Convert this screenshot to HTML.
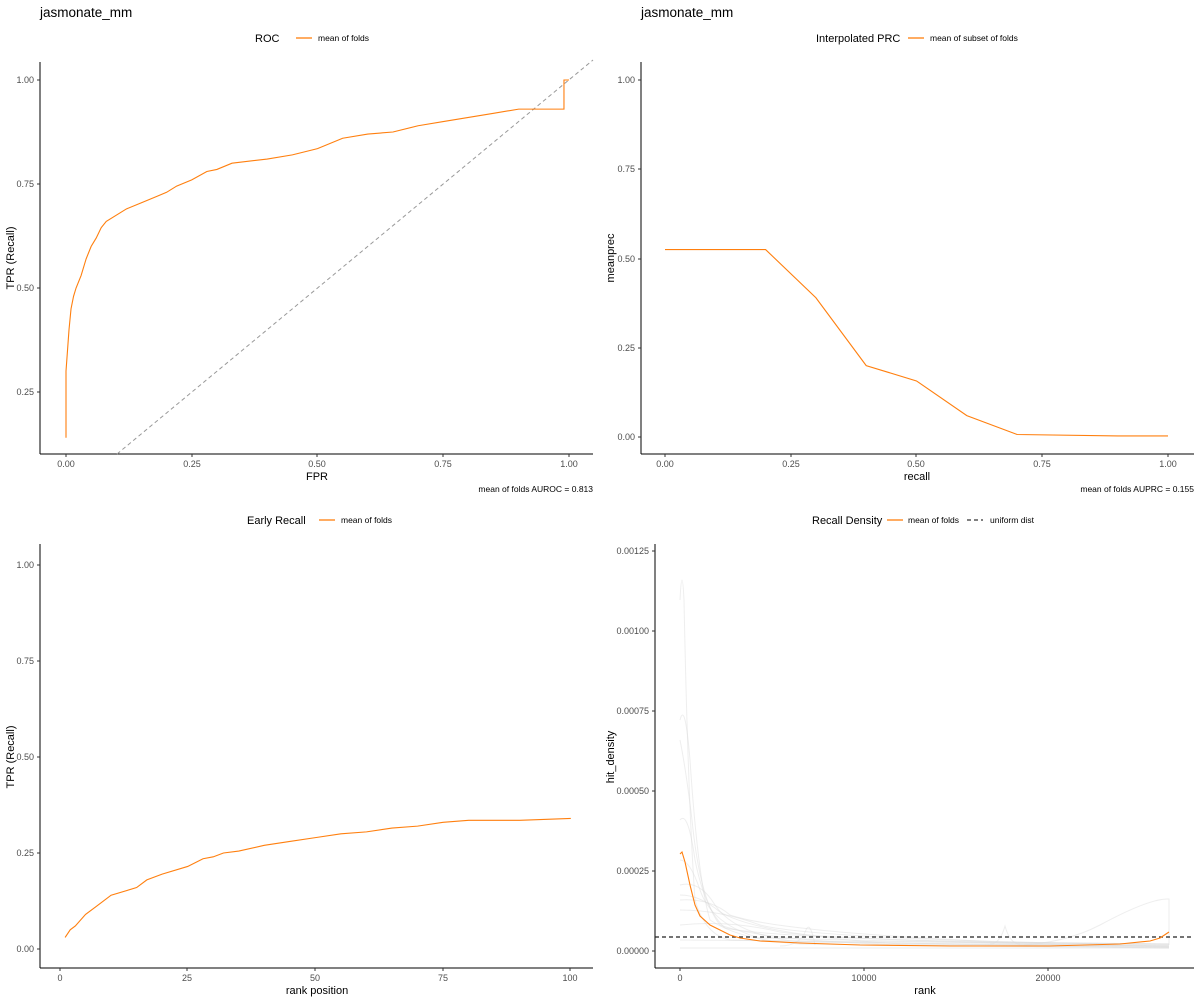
<!DOCTYPE html>
<html><head><meta charset="utf-8"><style>
body{margin:0;background:#fff}
svg{display:block;font-family:"Liberation Sans",Arial,sans-serif}
.t{font-size:9px;fill:#4d4d4d}
.ax{font-size:11px;fill:#000}
.ti{font-size:13.5px;fill:#000}
.lg{font-size:11px;fill:#000}
.ls{font-size:8.5px;fill:#000}
.o{fill:none;stroke:#ff7f0e;stroke-width:1.1;vector-effect:non-scaling-stroke}
.g{fill:none;stroke:#d9d9d9;stroke-opacity:.45;stroke-width:1}
</style></head><body>
<svg width="1200" height="1000" viewBox="0 0 1200 1000">
<!-- Panel 1 -->
<text class="ti" x="40" y="17">jasmonate_mm</text>
<text class="lg" x="255" y="42">ROC</text>
<line x1="296" y1="38" x2="312" y2="38" stroke="#ff7f0e" stroke-width="1.3"/>
<text class="ls" x="318" y="41">mean of folds</text>
<line x1="40" y1="62" x2="40" y2="454" stroke="#000"/>
<line x1="40" y1="454" x2="593" y2="454" stroke="#000"/>
<g class="t" text-anchor="end">
<text x="34" y="83">1.00</text><text x="34" y="187">0.75</text><text x="34" y="291">0.50</text><text x="34" y="395">0.25</text>
</g>
<g stroke="#333"><line x1="37" y1="80" x2="40" y2="80"/><line x1="37" y1="184" x2="40" y2="184"/><line x1="37" y1="288" x2="40" y2="288"/><line x1="37" y1="392" x2="40" y2="392"/>
<line x1="66" y1="454" x2="66" y2="457"/><line x1="192" y1="454" x2="192" y2="457"/><line x1="317" y1="454" x2="317" y2="457"/><line x1="443" y1="454" x2="443" y2="457"/><line x1="569" y1="454" x2="569" y2="457"/></g>
<g class="t" text-anchor="middle"><text x="66" y="467">0.00</text><text x="192" y="467">0.25</text><text x="317" y="467">0.50</text><text x="443" y="467">0.75</text><text x="569" y="467">1.00</text></g>
<text class="ax" x="317" y="480" text-anchor="middle">FPR</text>
<text class="ax" transform="translate(14,258) rotate(-90)" text-anchor="middle">TPR (Recall)</text>
<text class="ls" x="593" y="492" text-anchor="end">mean of folds AUROC = 0.813</text>
<line x1="117" y1="454" x2="593" y2="60" stroke="#999" stroke-dasharray="4,3"/>
<g transform="translate(66,496) scale(503,-416)"><path class="o" d="M0,0.14 L0,0.30 L0.003,0.35 L0.006,0.40 L0.01,0.45 L0.015,0.48 L0.02,0.50 L0.03,0.53 L0.04,0.57 L0.05,0.60 L0.06,0.62 L0.07,0.645 L0.08,0.66 L0.1,0.675 L0.12,0.69 L0.15,0.705 L0.18,0.72 L0.2,0.73 L0.22,0.745 L0.25,0.76 L0.28,0.78 L0.3,0.785 L0.33,0.80 L0.4,0.81 L0.45,0.82 L0.5,0.835 L0.55,0.86 L0.6,0.87 L0.65,0.875 L0.7,0.89 L0.75,0.90 L0.8,0.91 L0.85,0.92 L0.9,0.93 L0.99,0.93 L0.99,1.0 L1.0,1.0"/></g>

<!-- Panel 2 -->
<text class="ti" x="641" y="17">jasmonate_mm</text>
<text class="lg" x="816" y="42">Interpolated PRC</text>
<line x1="908" y1="38" x2="924" y2="38" stroke="#ff7f0e" stroke-width="1.3"/>
<text class="ls" x="930" y="41">mean of subset of folds</text>
<line x1="641" y1="62" x2="641" y2="454" stroke="#000"/>
<line x1="641" y1="454" x2="1194" y2="454" stroke="#000"/>
<g stroke="#333"><line x1="638" y1="80" x2="641" y2="80"/><line x1="638" y1="169" x2="641" y2="169"/><line x1="638" y1="259" x2="641" y2="259"/><line x1="638" y1="348" x2="641" y2="348"/><line x1="638" y1="437" x2="641" y2="437"/>
<line x1="665" y1="454" x2="665" y2="457"/><line x1="791" y1="454" x2="791" y2="457"/><line x1="916" y1="454" x2="916" y2="457"/><line x1="1042" y1="454" x2="1042" y2="457"/><line x1="1168" y1="454" x2="1168" y2="457"/></g>
<g class="t" text-anchor="end"><text x="635" y="83">1.00</text><text x="635" y="172">0.75</text><text x="635" y="262">0.50</text><text x="635" y="351">0.25</text><text x="635" y="440">0.00</text></g>
<g class="t" text-anchor="middle"><text x="665" y="467">0.00</text><text x="791" y="467">0.25</text><text x="916" y="467">0.50</text><text x="1042" y="467">0.75</text><text x="1168" y="467">1.00</text></g>
<text class="ax" x="917" y="480" text-anchor="middle">recall</text>
<text class="ax" transform="translate(614,258) rotate(-90)" text-anchor="middle">meanprec</text>
<text class="ls" x="1194" y="492" text-anchor="end">mean of folds AUPRC = 0.155</text>
<g transform="translate(665,437) scale(503,-357)"><path class="o" d="M0,0.525 L0.2,0.525 L0.3,0.39 L0.4,0.2 L0.5,0.157 L0.6,0.06 L0.7,0.007 L0.9,0.003 L1.0,0.003"/></g>

<!-- Panel 3 -->
<text class="lg" x="247" y="524">Early Recall</text>
<line x1="319" y1="520" x2="335" y2="520" stroke="#ff7f0e" stroke-width="1.3"/>
<text class="ls" x="341" y="523">mean of folds</text>
<line x1="40" y1="544" x2="40" y2="968" stroke="#000"/>
<line x1="40" y1="968" x2="593" y2="968" stroke="#000"/>
<g stroke="#333"><line x1="37" y1="565" x2="40" y2="565"/><line x1="37" y1="661" x2="40" y2="661"/><line x1="37" y1="757" x2="40" y2="757"/><line x1="37" y1="853" x2="40" y2="853"/><line x1="37" y1="949" x2="40" y2="949"/>
<line x1="60" y1="968" x2="60" y2="971"/><line x1="187" y1="968" x2="187" y2="971"/><line x1="315" y1="968" x2="315" y2="971"/><line x1="443" y1="968" x2="443" y2="971"/><line x1="570" y1="968" x2="570" y2="971"/></g>
<g class="t" text-anchor="end"><text x="34" y="568">1.00</text><text x="34" y="664">0.75</text><text x="34" y="760">0.50</text><text x="34" y="856">0.25</text><text x="34" y="952">0.00</text></g>
<g class="t" text-anchor="middle"><text x="60" y="981">0</text><text x="187" y="981">25</text><text x="315" y="981">50</text><text x="443" y="981">75</text><text x="570" y="981">100</text></g>
<text class="ax" x="317" y="994" text-anchor="middle">rank position</text>
<text class="ax" transform="translate(14,757) rotate(-90)" text-anchor="middle">TPR (Recall)</text>
<g transform="translate(60,949) scale(5.108,-384)"><path class="o" d="M1,0.03 L2,0.05 L3,0.06 L5,0.09 L7,0.11 L10,0.14 L15,0.16 L17,0.18 L20,0.195 L25,0.215 L28,0.235 L30,0.24 L32,0.25 L35,0.255 L40,0.27 L45,0.28 L50,0.29 L55,0.30 L60,0.305 L65,0.315 L70,0.32 L75,0.33 L80,0.335 L90,0.335 L100,0.34"/></g>

<!-- Panel 4 -->
<text class="lg" x="812" y="524">Recall Density</text>
<line x1="887" y1="520" x2="903" y2="520" stroke="#ff7f0e" stroke-width="1.3"/>
<text class="ls" x="908" y="523">mean of folds</text>
<line x1="967" y1="520" x2="983" y2="520" stroke="#000" stroke-dasharray="4,3"/>
<text class="ls" x="990" y="523">uniform dist</text>
<line x1="655" y1="544" x2="655" y2="968" stroke="#000"/>
<line x1="655" y1="968" x2="1194" y2="968" stroke="#000"/>
<g stroke="#333"><line x1="652" y1="551" x2="655" y2="551"/><line x1="652" y1="631" x2="655" y2="631"/><line x1="652" y1="711" x2="655" y2="711"/><line x1="652" y1="791" x2="655" y2="791"/><line x1="652" y1="871" x2="655" y2="871"/><line x1="652" y1="951" x2="655" y2="951"/>
<line x1="680" y1="968" x2="680" y2="971"/><line x1="864" y1="968" x2="864" y2="971"/><line x1="1048" y1="968" x2="1048" y2="971"/></g>
<g class="t" text-anchor="end"><text x="649" y="554">0.00125</text><text x="649" y="634">0.00100</text><text x="649" y="714">0.00075</text><text x="649" y="794">0.00050</text><text x="649" y="874">0.00025</text><text x="649" y="954">0.00000</text></g>
<g class="t" text-anchor="middle"><text x="680" y="981">0</text><text x="864" y="981">10000</text><text x="1048" y="981">20000</text></g>
<text class="ax" x="925" y="994" text-anchor="middle">rank</text>
<text class="ax" transform="translate(614,757) rotate(-90)" text-anchor="middle">hit_density</text>
<g class="g">
<path d="M680,600 Q682,560 684,600 Q688,800 695,900 Q705,935 730,940 L1169,948"/>
<path d="M680,720 Q685,700 690,760 Q698,880 710,920 Q740,940 800,944 L1169,948"/>
<path d="M680,740 Q686,770 692,820 Q700,900 720,925 Q760,940 900,945 L1169,947"/>
<path d="M680,820 Q688,810 695,860 Q705,910 725,928 Q780,940 1169,946"/>
<path d="M680,895 Q700,895 720,912 Q760,935 900,944 L1169,946"/>
<path d="M680,900 Q710,898 730,915 Q780,932 1000,942 L1169,944"/>
<path d="M680,910 Q720,910 760,925 Q820,940 1169,945"/>
<path d="M680,925 Q730,920 780,932 Q850,942 1169,944"/>
<path d="M680,940 L1169,944"/>
<path d="M680,948 L1169,948"/>
<path d="M680,885 Q700,880 715,905 Q735,935 800,942 L1169,946"/>
<path d="M680,860 Q690,860 700,890 Q712,925 760,938 L1169,947"/>
<path d="M1000,946 Q1060,946 1100,925 Q1150,898 1169,899 L1169,945"/>
<path d="M780,946 Q800,946 806,930 Q810,920 815,945"/>
<path d="M990,944 Q1000,944 1005,926 Q1010,944 1020,944"/>
</g>
<line x1="655" y1="937" x2="1194" y2="937" stroke="#222" stroke-width="1.2" stroke-dasharray="4,3"/>
<path class="o" d="M680,854 L682,852 L685,862 L690,885 L695,905 L700,916 L710,925 L720,930 L730,935 L740,938 L760,941 L800,943 L860,945 L950,946 L1050,946 L1120,944 L1150,941 L1160,938 L1169,932"/>
</svg>
</body></html>
